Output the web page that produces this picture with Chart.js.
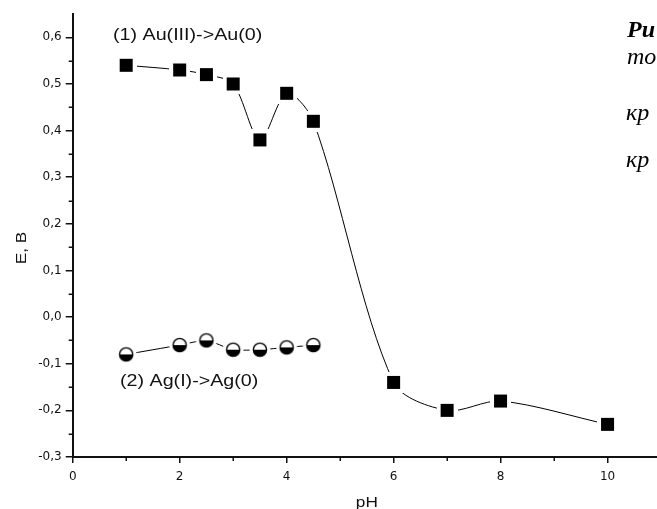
<!DOCTYPE html>
<html><head><meta charset="utf-8">
<script src="https://cdn.jsdelivr.net/npm/chart.js@4"></script>
<style>
html,body{margin:0;padding:0;overflow:hidden;background:#fff;width:657px;height:509px}
#wrap{position:absolute;left:0;top:0;width:672px;height:509px}
</style>
</head><body>
<div id="wrap"><canvas id="c" width="672" height="509"></canvas></div>
<script>
// ---- data ----
const phAu = [1, 2, 2.5, 3, 3.5, 4, 4.5, 6, 7, 8, 10];
const eAu  = [0.54, 0.53, 0.52, 0.50, 0.38, 0.48, 0.42, -0.14, -0.20, -0.18, -0.23];
const phAg = [1, 2, 2.5, 3, 3.5, 4, 4.5];
const eAg  = [-0.08, -0.06, -0.05, -0.07, -0.07, -0.065, -0.06];
const xTicks = [0, 2, 4, 6, 8, 10];
const xMinorTicks = [1, 3, 5, 7, 9];
const yTicks = [-0.3, -0.2, -0.1, 0, 0.1, 0.2, 0.3, 0.4, 0.5, 0.6];
const yMinorTicks = [-0.25, -0.15, -0.05, 0.05, 0.15, 0.25, 0.35, 0.45, 0.55];
const seriesLabels = ['(1) Au(III)->Au(0)', '(2) Ag(I)->Ag(0)'];
const xTitle = 'pH';
const yTitle = 'E, В';
const sideText = ['Ри', 'то', 'кр', 'кр'];

// ---- marker images (with white halo to give the gap around symbols) ----
function makeSquare(){
  const c = document.createElement('canvas'); c.width = 21; c.height = 21;
  const g = c.getContext('2d');
  g.fillStyle = '#fff'; g.fillRect(0,0,21,21);
  g.fillStyle = '#000'; g.fillRect(4,4,13,13);
  return c;
}
function makeHalf(){
  const c = document.createElement('canvas'); c.width = 22; c.height = 22;
  const g = c.getContext('2d');
  g.fillStyle = '#fff'; g.beginPath(); g.arc(11,11,10.5,0,2*Math.PI); g.fill();
  g.fillStyle = '#000'; g.beginPath(); g.arc(11,11,6.6,0,Math.PI); g.closePath(); g.fill();
  g.strokeStyle = '#000'; g.lineWidth = 1.4; g.beginPath(); g.arc(11,11,6.6,0,2*Math.PI); g.stroke();
  return c;
}
const sq = makeSquare();
const half = makeHalf();

function stretched(ctx, text, x, y, size, align, rot){
  ctx.save();
  ctx.translate(x, y);
  if (rot) ctx.rotate(rot);
  ctx.scale(1.23, 1);
  ctx.font = size + 'px "Liberation Sans", Arial, sans-serif';
  ctx.textAlign = align; ctx.textBaseline = 'alphabetic';
  ctx.fillStyle = '#111';
  ctx.fillText(text, 0, 0);
  ctx.restore();
}

const decor = {
  id: 'decor',
  afterDraw(chart){
    const ctx = chart.ctx;
    const xs = chart.scales.x, ys = chart.scales.y;
    const area = chart.chartArea;
    // minor ticks
    ctx.save();
    ctx.strokeStyle = '#111'; ctx.lineWidth = 1.5;
    yMinorTicks.forEach(v => {
      const py = Math.round(ys.getPixelForValue(v)) + 0.25;
      ctx.beginPath(); ctx.moveTo(area.left - 4, py); ctx.lineTo(area.left, py); ctx.stroke();
    });
    xMinorTicks.forEach(v => {
      const px = Math.round(xs.getPixelForValue(v)) + 0.25;
      ctx.beginPath(); ctx.moveTo(px, area.bottom); ctx.lineTo(px, area.bottom + 4); ctx.stroke();
    });
    ctx.restore();
    // series labels
    stretched(ctx, seriesLabels[0], 113, 39.5, 16, 'left');
    stretched(ctx, seriesLabels[1], 120, 386, 16, 'left');
    // axis titles
    stretched(ctx, xTitle, (area.left + area.right) / 2, 507, 14, 'center');
    stretched(ctx, yTitle, 26, 248, 14, 'center', -Math.PI / 2);
    // clipped document text at right
    ctx.save();
    ctx.fillStyle = '#000';
    ctx.textAlign = 'left'; ctx.textBaseline = 'alphabetic';
    ctx.font = 'italic bold 24px "Liberation Serif", "Times New Roman", serif';
    ctx.fillText(sideText[0], 627, 37);
    ctx.font = 'italic 24px "Liberation Serif", "Times New Roman", serif';
    ctx.fillText(sideText[1], 627, 64);
    ctx.fillText(sideText[2], 626, 120);
    ctx.fillText(sideText[3], 626, 167);
    ctx.restore();
  }
};

new Chart(document.getElementById('c'), {
  type: 'line',
  data: {
    datasets: [
      {
        data: phAu.map((x, i) => ({x: x, y: eAu[i]})),
        borderColor: '#000', borderWidth: 1, tension: 0.3, fill: false,
        pointStyle: sq, pointRadius: 10
      },
      {
        data: phAg.map((x, i) => ({x: x, y: eAg[i]})),
        borderColor: '#000', borderWidth: 1, tension: 0.2, fill: false,
        pointStyle: half, pointRadius: 10
      }
    ]
  },
  options: {
    responsive: false,
    animation: false,
    events: [],
    layout: { padding: { top: 14, right: 7.5, left: 0, bottom: 0 } },
    plugins: { legend: { display: false }, tooltip: { enabled: false } },
    scales: {
      x: {
        type: 'linear', min: 0, max: 11,
        afterBuildTicks: s => { s.ticks = xTicks.map(v => ({value: v})); },
        afterFit: s => { s.height = 52; },
        grid: { drawOnChartArea: false, tickLength: 6, color: '#111', lineWidth: 1.5 },
        border: { color: '#111', width: 2 },
        ticks: { font: { family: 'DejaVu Sans', size: 12 }, color: '#111', padding: 7,
                 maxRotation: 0, autoSkip: false, callback: v => String(v) }
      },
      y: {
        type: 'linear', min: -0.3, max: 0.65,
        afterBuildTicks: s => { s.ticks = yTicks.map(v => ({value: v})); },
        afterFit: s => { s.width = 72.7; },
        grid: { drawOnChartArea: false, tickLength: 7, color: '#111', lineWidth: 1.5 },
        border: { color: '#111', width: 2 },
        ticks: { font: { family: 'DejaVu Sans', size: 12 }, color: '#111', padding: 4,
                 autoSkip: false, callback: v => Number(v).toFixed(1).replace('.', ',') }
      }
    }
  },
  plugins: [decor]
});
</script>
</body></html>
